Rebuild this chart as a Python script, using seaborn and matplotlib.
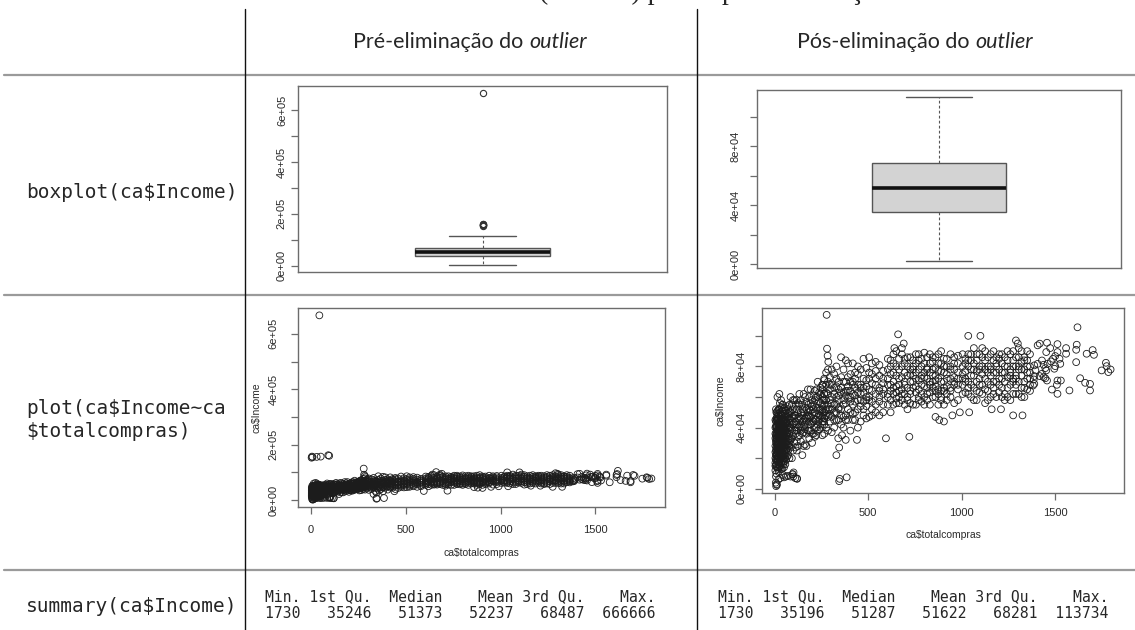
import numpy as np
import pandas as pd
import matplotlib
matplotlib.use("Agg")
import matplotlib.pyplot as plt
from matplotlib.lines import Line2D
from matplotlib.ticker import FixedLocator, FuncFormatter, NullLocator
import seaborn as sns

# ------------------------------------------------------------------ data
summary_labels = ["Min.", "1st Qu.", "Median", "Mean", "3rd Qu.", "Max."]
pre_summary = [1730, 35246, 51373, 52237, 68487, 666666]
post_summary = [1730, 35196, 51287, 51622, 68281, 113734]

row_labels = ["boxplot(ca$Income)", "plot(ca$Income~ca\n$totalcompras)", "summary(ca$Income)"]
col_headers = [("Pré-eliminação do", "outlier"), ("Pós-eliminação do", "outlier")]
caption_fragment = "(Income) para a pré-eliminação do outlier"
x_label = "ca$totalcompras"
y_label = "ca$Income"

# scatter points (totalcompras, Income in thousands)
band_a_x = [4, 7, 9, 11, 13, 16, 18, 21, 23, 26, 28, 31, 34, 36, 39, 41, 44, 47, 50, 53, 57, 61, 66, 72, 79]
band_a_y = [
    [28, 35, 22, 41, 18, 30, 45, 26, 38, 33, 15, 48, 29, 36, 24, 42, 31, 52, 27, 39, 34, 44, 37, 49, 40],
    [12, 19, 33, 25, 47, 38, 21, 52, 16, 44, 27, 35, 58, 20, 46, 30, 55, 23, 41, 18, 49, 26, 43, 32, 55],
    [40, 8, 30, 14, 26, 51, 34, 11, 29, 20, 37, 24, 17, 43, 31, 13, 26, 38, 34, 47, 22, 51, 29, 40, 46],
    [20, 44, 16, 36, 39, 24, 13, 32, 48, 25, 41, 19, 39, 27, 53, 35, 21, 45, 14, 29, 40, 33, 54, 25, 36],
    [33, 25, 46, 29, 22, 43, 28, 40, 20, 37, 31, 42, 22, 33, 18, 48, 37, 28, 45, 24, 30, 19, 36, 47, 30],
    [17, 52, 37, 20, 33, 14, 49, 23, 43, 30, 56, 26, 45, 13, 38, 23, 44, 16, 31, 53, 27, 38, 21, 34, 50],
    [45, 31, 10, 50, 27, 35, 19, 46, 34, 15, 23, 50, 32, 40, 28, 51, 17, 33, 22, 36, 45, 25, 47, 29, 20],
    [24, 15, 40, 33, 45, 29, 37, 17, 26, 52, 35, 14, 26, 48, 21, 37, 42, 19, 39, 28, 16, 43, 31, 52, 43],
    [36, 22, 27, 45, 31, 19, 42, 35, 14, 40, 47, 30, 20, 37, 44, 27, 33, 49, 25, 43, 38, 29, 41, 22, 33],
    [15, 41, 50, 23, 38, 46, 26, 30, 52, 18, 33, 39, 48, 24, 34, 55, 29, 41, 36, 20, 51, 35, 26, 45, 28],
]
low_x = [8, 10, 12, 6, 20, 30, 50, 45, 60, 70, 85, 100, 110, 120, 95, 101, 119, 97, 15, 25]
low_y = [1.73, 3, 2.5, 4, 6, 7, 7.5, 9, 8, 8.5, 8, 8, 7, 6.5, 9.5, 10.7, 6.8, 9.6, 60, 62]

band_b_x = [85, 92, 98, 105, 112, 118, 125, 132, 140, 148, 155, 162, 170, 178, 185, 192, 200, 208, 215, 222, 230, 238, 245, 255, 265]
band_b_y = [
    [45, 38, 52, 30, 48, 42, 56, 35, 50, 44, 62, 39, 47, 55, 33, 51, 58, 46, 40, 60, 53, 48, 66, 44, 55],
    [32, 55, 25, 43, 36, 58, 28, 47, 40, 22, 45, 53, 36, 42, 60, 38, 30, 52, 64, 35, 47, 57, 40, 68, 50],
    [60, 20, 42, 50, 27, 38, 46, 62, 31, 52, 37, 29, 57, 48, 44, 65, 43, 36, 50, 45, 70, 39, 56, 52, 62],
    [40, 47, 35, 58, 44, 25, 40, 55, 46, 36, 50, 42, 28, 65, 52, 47, 54, 61, 34, 53, 42, 63, 48, 35, 46],
    [50, 33, 47, 38, 55, 31, 50, 41, 58, 48, 28, 46, 52, 38, 47, 56, 36, 44, 58, 40, 60, 45, 52, 58, 42],
    [27, 42, 58, 48, 40, 52, 34, 45, 38, 55, 41, 60, 44, 50, 38, 42, 49, 55, 45, 65, 38, 51, 62, 47, 71],
]

band_c_x = [255, 265, 275, 285, 295, 305, 318, 330, 342, 355, 368, 380, 392, 405, 418, 430, 445, 460, 475, 490, 505, 520, 540, 560, 580]
band_c_y = [
    [55, 62, 48, 70, 58, 52, 66, 60, 45, 73, 63, 56, 82, 50, 68, 61, 75, 58, 66, 54, 72, 64, 83, 60, 69],
    [42, 50, 68, 38, 73, 47, 55, 80, 61, 52, 40, 70, 59, 64, 45, 76, 52, 66, 48, 79, 58, 69, 55, 74, 62],
    [65, 36, 58, 62, 44, 68, 40, 50, 70, 42, 78, 48, 67, 57, 82, 50, 63, 44, 72, 60, 86, 52, 68, 48, 77],
    [50, 72, 40, 55, 65, 37, 75, 45, 58, 63, 55, 84, 45, 70, 55, 66, 40, 78, 57, 67, 47, 75, 62, 81, 55],
    [60, 46, 76, 47, 52, 78, 50, 67, 53, 86, 47, 61, 73, 38, 62, 72, 58, 68, 85, 46, 65, 57, 77, 66, 50],
    [47, 58, 63, 52, 68, 60, 45, 72, 52, 66, 58, 45, 64, 75, 49, 57, 68, 62, 52, 71, 60, 82, 50, 64, 72],
    [68, 44, 52, 78, 49, 56, 62, 55, 65, 48, 70, 64, 52, 60, 70, 45, 80, 54, 63, 58, 76, 48, 72, 57, 65],
]
special_c_x = [278, 280, 283, 287, 345, 348, 385, 330, 345, 340, 360, 595, 440, 380]
special_c_y = [113.734, 91.6, 87, 83, 5, 6.5, 7.5, 22, 27, 33, 35, 33, 32, 32]

band_d_x = [605, 620, 635, 650, 665, 680, 695, 710, 725, 740, 755, 770, 785, 800, 815, 830, 845, 860, 875, 890, 905, 920, 940, 960, 980]
band_d_y = [
    [68, 75, 62, 80, 72, 58, 85, 66, 78, 70, 63, 88, 74, 60, 79, 68, 83, 71, 65, 90, 76, 62, 80, 73, 87],
    [55, 64, 82, 59, 68, 88, 70, 52, 62, 84, 76, 58, 68, 82, 72, 55, 66, 86, 77, 60, 70, 85, 66, 78, 58],
    [78, 58, 70, 90, 56, 73, 62, 80, 70, 55, 82, 71, 80, 67, 58, 88, 74, 60, 82, 70, 64, 75, 88, 56, 72],
    [62, 84, 55, 67, 85, 65, 76, 58, 86, 74, 67, 60, 85, 73, 86, 63, 78, 67, 55, 77, 85, 67, 72, 82, 65],
    [85, 50, 76, 63, 60, 80, 55, 74, 64, 80, 55, 78, 62, 89, 66, 76, 60, 79, 72, 64, 55, 80, 60, 68, 76],
    [72, 68, 88, 56, 78, 62, 82, 60, 75, 66, 72, 84, 57, 76, 62, 82, 70, 64, 88, 58, 80, 72, 64, 86, 68],
    [60, 80, 66, 74, 64, 92, 68, 86, 56, 78, 88, 65, 72, 55, 78, 70, 86, 74, 62, 82, 66, 58, 78, 70, 82],
]
special_d_x = [660, 720, 690, 640, 860, 880, 905, 950, 990]
special_d_y = [101, 34, 95, 92, 47, 45, 44, 48, 50]

band_e_x = [1005, 1020, 1035, 1050, 1065, 1080, 1095, 1110, 1125, 1140, 1155, 1170, 1185, 1200, 1215, 1230, 1245, 1260, 1275, 1290, 1305, 1320, 1335, 1350, 1365]
band_e_y = [
    [80, 72, 88, 68, 78, 84, 63, 75, 90, 70, 80, 66, 76, 85, 72, 62, 80, 74, 90, 68, 78, 83, 70, 76, 88],
    [68, 85, 62, 78, 92, 70, 78, 86, 65, 80, 60, 84, 70, 63, 82, 76, 66, 88, 72, 80, 62, 74, 86, 65, 72],
    [75, 63, 80, 88, 66, 77, 88, 68, 78, 58, 74, 90, 82, 72, 60, 86, 73, 58, 80, 74, 86, 66, 78, 90, 64],
    [88, 77, 70, 60, 82, 64, 72, 80, 56, 86, 68, 76, 60, 78, 88, 70, 90, 68, 62, 86, 70, 90, 60, 80, 76],
    [72, 82, 66, 84, 74, 58, 80, 62, 84, 76, 88, 62, 86, 68, 76, 80, 60, 78, 84, 72, 80, 60, 84, 72, 68],
    [62, 70, 84, 74, 58, 88, 68, 92, 72, 64, 78, 70, 80, 88, 66, 58, 84, 76, 70, 62, 92, 78, 66, 84, 80],
]
special_e_x = [1035, 1100, 1040, 1160, 1210, 1275, 1325, 1300, 1290]
special_e_y = [100, 100, 50, 52, 52, 48, 48, 95, 97]

band_f_x = [1406, 1417, 1456, 1512, 1558, 1558, 1615, 1612, 1619, 1700, 1707, 1668, 1473, 1452, 1488, 1512, 1500, 1523,
            1527, 1477, 1459, 1429, 1438, 1388, 1406, 1394, 1447, 1452, 1495, 1500, 1429, 1417, 1388, 1385, 1381, 1388,
            1447, 1438, 1456, 1512, 1530, 1509, 1482, 1512, 1576, 1633, 1660, 1686, 1686, 1612, 1748, 1771, 1775, 1784, 1796]
band_f_y = [93.8, 94.9, 95.5, 94.6, 92.0, 88.3, 94.2, 90.9, 105.6, 90.7, 87.6, 88.3, 92.0, 89.4, 85.0, 89.4, 86.8, 85.0,
            81.7, 83.3, 81.7, 83.9, 81.1, 80.7, 81.7, 77.4, 78.9, 77.4, 78.5, 80.2, 75.2, 73.7, 73.7, 71.5, 67.5, 68.6,
            72.3, 73.0, 70.8, 70.8, 70.8, 68.0, 64.9, 62.1, 64.3, 72.3, 69.3, 68.6, 64.3, 82.8, 77.4, 82.4, 80.2, 76.3, 78.0]

outlier_x = [3, 5, 8, 30, 51, 91, 96, 44]
outlier_y = [153, 157, 155, 156, 157, 162, 160, 666.666]

# ------------------------------------------------------------------ assemble
xs, ys = [], []
for bx, rows in ((band_a_x, band_a_y), (band_b_x, band_b_y), (band_c_x, band_c_y),
                 (band_d_x, band_d_y), (band_e_x, band_e_y)):
    for row in rows:
        xs += bx
        ys += row
xs += low_x + special_c_x + special_d_x + special_e_x + band_f_x
ys += low_y + special_c_y + special_d_y + special_e_y + band_f_y
post_df = pd.DataFrame({"compras": xs, "income": np.array(ys) * 1000.0})
pre_df = pd.concat([post_df, pd.DataFrame({"compras": outlier_x,
                                           "income": np.array(outlier_y) * 1000.0})],
                   ignore_index=True)

# ------------------------------------------------------------------ figure
sns.set_style("white")
plt.rcParams["font.family"] = ["Liberation Sans", "DejaVu Sans"]
W, H = 1135, 630
fig = plt.figure(figsize=(W / 100, H / 100), dpi=100)


def fx(px):
    return px / W


def fy(py):
    return 1 - py / H


def add_ax(l, t, r, b):
    return fig.add_axes([fx(l), fy(b), fx(r) - fx(l), (b - t) / H])


FRAME = "#6c6c6c"


def r_axes(ax, step, n, ylim, ypad):
    for s in ax.spines.values():
        s.set_color(FRAME)
        s.set_linewidth(1.0)
    ticks = [i * step for i in range(n + 1)]
    ax.yaxis.set_major_locator(FixedLocator(ticks))
    ax.yaxis.set_major_formatter(FuncFormatter(
        lambda v, p: f"{v:.0e}" if int(round(v / step)) % 2 == 0 else ""))
    ax.set_ylim(*ylim)
    ax.tick_params(axis="y", direction="out", length=5, width=0.9, color=FRAME,
                   labelsize=8, labelcolor="#2b2b2b", pad=ypad, labelrotation=90, left=True)
    for lab in ax.get_yticklabels():
        lab.set_va("center")


def rlim(vals):
    lo, hi = min(vals), max(vals)
    d = 0.04 * (hi - lo)
    return lo - d, hi + d


def box_panel(ax, summ, data, step, n, ypad, width, capw):
    whishi = max(v for v in data if v <= summ[4] + 1.5 * (summ[4] - summ[1]))
    stats = [dict(med=summ[2], q1=summ[1], q3=summ[4], whislo=summ[0], whishi=whishi,
                  fliers=[v for v in data if v > whishi])]
    ax.bxp(stats, positions=[1], widths=width, capwidths=capw, patch_artist=True,
           boxprops=dict(facecolor="#d3d3d3", edgecolor="#555555", linewidth=1.0),
           medianprops=dict(color="#111111", linewidth=2.6),
           whiskerprops=dict(color="#555555", linewidth=0.8, linestyle=(0, (2.5, 2))),
           capprops=dict(color="#555555", linewidth=1.0),
           flierprops=dict(marker="o", markerfacecolor="none", markeredgecolor="#333333",
                           markersize=4.5, markeredgewidth=0.8))
    ax.set_xlim(0.5, 1.5)
    ax.xaxis.set_major_locator(NullLocator())
    r_axes(ax, step, n, rlim(list(data) + [summ[0]]), ypad)


def scatter_panel(ax, df, step, n, ypad, xpad, ylab_x, xlab_y):
    sns.scatterplot(data=df, x="compras", y="income", ax=ax, marker="o", s=24,
                    facecolor="none", edgecolor="#1c1c1c", linewidth=0.6, legend=False)
    ax.set_xlim(*rlim(df["compras"]))
    r_axes(ax, step, n, rlim(df["income"]), ypad)
    ax.xaxis.set_major_locator(FixedLocator([0, 500, 1000, 1500]))
    ax.tick_params(axis="x", direction="out", length=5, width=0.9, color=FRAME,
                   labelsize=8, labelcolor="#2b2b2b", pad=xpad, bottom=True)
    ax.set_xlabel(x_label, fontsize=7.5, color="#2b2b2b", va="center")
    ax.set_ylabel(y_label, fontsize=7.5, color="#2b2b2b", va="center")
    ax.xaxis.set_label_coords(0.5, xlab_y)
    ax.yaxis.set_label_coords(ylab_x, 0.5)


# boxplots
ax1 = add_ax(298, 86, 667, 272)
box_panel(ax1, pre_summary, pre_df["income"].tolist(), 100000, 6, 3, 0.366, 0.18)
ax2 = add_ax(757, 90, 1121, 268)
box_panel(ax2, post_summary, post_df["income"].tolist(), 20000, 5, 7, 0.368, 0.184)

# scatter plots
ax3 = add_ax(298, 308, 665, 507)
scatter_panel(ax3, pre_df, 100000, 6, 9, 8, -0.112, -0.231)
ax4 = add_ax(762, 308, 1124, 493)
scatter_panel(ax4, post_df, 20000, 5, 6, 6, -0.116, -0.227)

# ------------------------------------------------------------------ table
for y in (75, 295, 570):
    fig.add_artist(Line2D([fx(4), 1], [fy(y), fy(y)], color="#9a9a9a", lw=1.6))
for x in (245, 697):
    fig.add_artist(Line2D([fx(x), fx(x)], [fy(9), 0], color="#111111", lw=1.0))

# caption of the page above the table, cut by the top edge (only descenders show)
fig.text(fx(539), fy(-1), caption_fragment, fontsize=20,
         family=["Liberation Serif", "DejaVu Serif"], va="baseline", ha="left")

mono = ["DejaVu Sans Mono"]
fig.text(fx(26), fy(193), row_labels[0], family=mono, fontsize=14, va="center")
fig.text(fx(26), fy(420), row_labels[1], family=mono, fontsize=14, va="center",
         linespacing=1.3)
fig.text(fx(26), fy(607), row_labels[2], family=mono, fontsize=14, va="center")

renderer = fig.canvas.get_renderer()
for (normal, ital), xc in zip(col_headers, (470, 915)):
    t1 = fig.text(0, fy(42), normal, family=["Lato", "DejaVu Sans"], fontsize=15.5, va="center")
    t2 = fig.text(0, fy(42), ital, family=["Lato", "DejaVu Sans"], fontsize=15.5,
                  style="italic", va="center")
    w1 = t1.get_window_extent(renderer).width
    w2 = t2.get_window_extent(renderer).width
    gap = 5.5
    x0 = xc - (w1 + gap + w2) / 2
    t1.set_x(fx(x0))
    t2.set_x(fx(x0 + w1 + gap))


def summary_lines(labels, vals):
    head = " ".join(f"{l:>7}" for l in labels)
    body = " ".join(f"{v:>7}" for v in vals)
    k = min(len(head) - len(head.lstrip()), len(body) - len(body.lstrip()))
    return head[k:], body[k:]


for vals, x0 in ((pre_summary, 265), (post_summary, 718)):
    h, b = summary_lines(summary_labels, vals)
    fig.text(fx(x0), fy(597), h, family=mono, fontsize=10.6, va="center")
    fig.text(fx(x0), fy(614), b, family=mono, fontsize=10.6, va="center")

fig.savefig("out.png", dpi=100, facecolor="white")
